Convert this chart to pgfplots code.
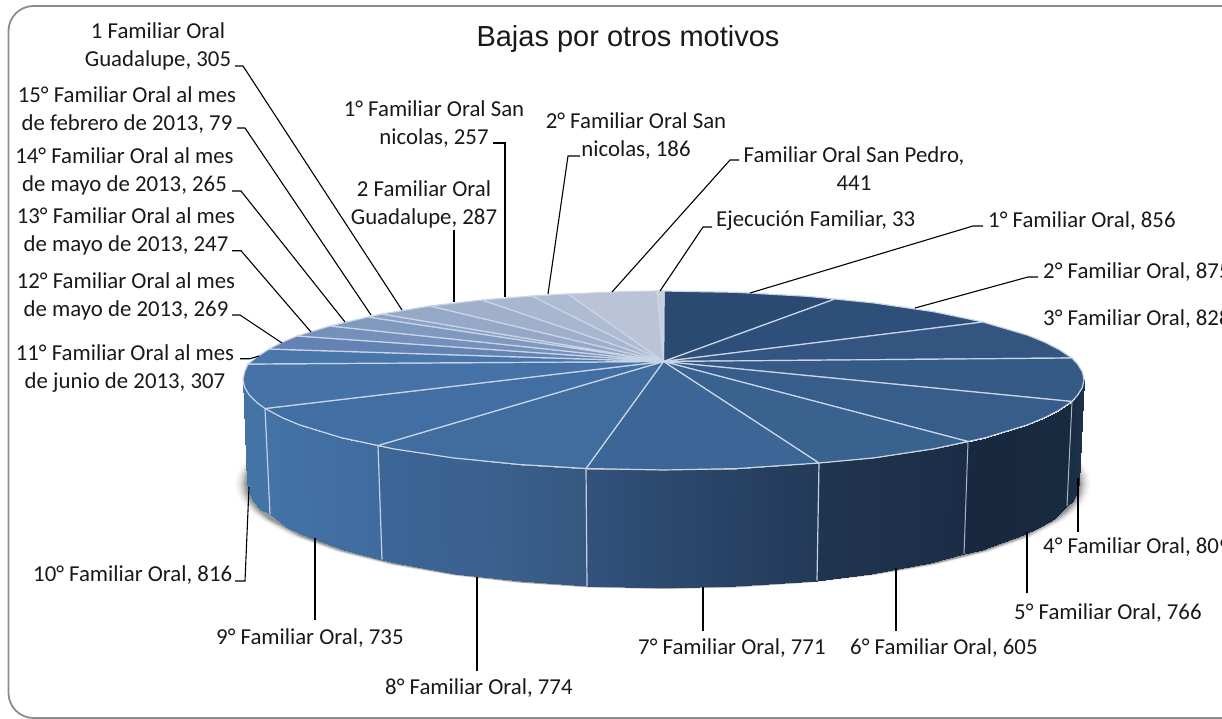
\documentclass[border=0pt]{standalone}
\usepackage{fontspec}
\usepackage{pgfplots}
\usepackage{pgfplotstable}
\pgfplotsset{compat=1.18}
\setmainfont{Carlito}
\newfontfamily\titlefont{Liberation Sans}
\newcommand\lab{\fontsize{22.8}{28}\selectfont}
\definecolor{sep}{HTML}{C9D5E6}
\definecolor{sepw}{HTML}{C3CFDF}
\definecolor{sepd}{HTML}{A7B5C6}
\definecolor{a1}{HTML}{2B4A72}\definecolor{a2}{HTML}{2E4F79}\definecolor{a3}{HTML}{33557F}\definecolor{a4}{HTML}{355A86}
\definecolor{a5}{HTML}{375D8A}\definecolor{a6}{HTML}{3A628F}\definecolor{a7}{HTML}{3B6695}\definecolor{a8}{HTML}{406C9E}
\definecolor{a9}{HTML}{426FA3}\definecolor{a10}{HTML}{4573A8}\definecolor{a11}{HTML}{4977AC}\definecolor{a12}{HTML}{6283B3}
\definecolor{a13}{HTML}{7490BB}\definecolor{a14}{HTML}{7F99BF}\definecolor{a15}{HTML}{8BA2C4}\definecolor{a16}{HTML}{95A8C7}
\definecolor{a17}{HTML}{A0B0CB}\definecolor{a18}{HTML}{A8B7D0}\definecolor{a19}{HTML}{AFBBD2}\definecolor{a20}{HTML}{BBC3D6}\definecolor{a21}{HTML}{C8CEDD}
\pgfplotstableread{
c s
1 0
0.9962 0.0872
0.9848 0.1736
0.9659 0.2588
0.9397 0.3420
0.8660 0.5
0.7660 0.6428
0.6428 0.7660
0.5 0.8660
0.3420 0.9397
0.1736 0.9848
0 1
-0.1736 0.9848
-0.3420 0.9397
-0.5 0.8660
-0.6428 0.7660
-0.7660 0.6428
-0.8660 0.5
-0.9397 0.3420
-0.9659 0.2588
-0.9848 0.1736
-0.9962 0.0872
-1 0
-0.9962 -0.0872
-0.9848 -0.1736
-0.9659 -0.2588
-0.9397 -0.3420
0 -0.6
0.9397 -0.3420
0.9659 -0.2588
0.9848 -0.1736
0.9962 -0.0872
}\shadowring
\pgfplotstableread{
x y c
1084 379.5 1084
1079 483 1084
1082.4 387.4 1082.4
1077.4 492.1 1082.4
1077.6 395.2 1077.6
1072.7 501.1 1077.6
1072 401.5 1072
1067 506 1072
1058.6 410.5 1058.6
1053.9 518.7 1058.6
1044.6 417.7 1044.6
1040 527.2 1044.6
1027.7 424.8 1027.7
1023.3 535.3 1027.7
985.6 437.7 985.6
981.7 550.2 985.6
968 441.5 968
964 554 968
933.8 448.8 933.8
930.4 563 933.8
873.8 457.9 873.8
871 573.5 873.8
819 463 819
817 580.5 819
736.5 468.6 736.5
735.2 585.9 736.5
663.5 470 663.5
663 587.5 663.5
586 468.5 586
587 586 586
519.7 464.5 519.7
520.7 581.2 519.7
453.2 457.9 453.2
455 573.5 453.2
393.2 448.8 393.2
395.6 563 393.2
378 445.5 378
382 559.5 378
341.4 437.7 341.4
344.3 550.2 341.4
299.3 424.8 299.3
302.7 535.3 299.3
282.4 417.7 282.4
286 527.2 282.4
265 408.5 265
270 514 265
257.3 402.9 257.3
261.2 510 257.3
249.4 395.2 249.4
253.3 501.1 249.4
244.6 387.4 244.6
248.6 492.1 244.6
243 379.5 243
247 483 243
}\walltable
\newcommand\shadowlayer[3]{\addplot[fill=black,fill opacity=#3,draw=none,forget plot] table[x expr={663+#1*\thisrow{c}},y expr={484+#2*\thisrow{s}}] {\shadowring} --cycle;}
\newcommand\slice[2]{\addplot[fill=#1,draw=sep,line width=1.2pt,line join=round,forget plot] coordinates {(663.5,361.5) #2} --cycle;}
\newcommand\leader[1]{\addplot[black,line width=1.1pt,forget plot] coordinates {#1};}
\newcommand\lbl[3]{\node[align=center,font=\lab,inner sep=0pt,text=black!90] at (axis cs:#1,#2) {#3};}
\newcommand\lbll[3]{\node[anchor=west,font=\lab,inner sep=0pt,text=black!90] at (axis cs:#1,#2) {#3};}
\begin{document}
\begin{tikzpicture}[x=1pt,y=1pt]
\useasboundingbox (0,0) rectangle (1222,719);
\clip (0,0) rectangle (1222,719);
\begin{axis}[at={(0,0)},anchor=south west,scale only axis,width=1222pt,height=719pt,
  xmin=0,xmax=1222,ymin=0,ymax=719,y dir=reverse,hide axis,clip=false,
  point meta min=243,point meta max=1084,
  colormap={wall}{
    rgb255(0pt)=(68,115,165);
    rgb255(22pt)=(68,115,165);
    rgb255(135pt)=(63,108,158);
    rgb255(136pt)=(60,102,151);
    rgb255(257pt)=(58,96,142);
    rgb255(343pt)=(54,87,128);
    rgb255(344pt)=(50,81,125);
    rgb255(420pt)=(44,73,110);
    rgb255(576pt)=(35,58,88);
    rgb255(577pt)=(32,53,81);
    rgb255(725pt)=(27,45,70);
    rgb255(726pt)=(24,40,63);
    rgb255(829pt)=(24,42,64);
    rgb255(830pt)=(26,45,68);
    rgb255(841pt)=(28,48,72)}]
% frame
\draw[color=black!45,line width=1.8pt,rounded corners=25pt] (axis cs:8.5,718) rectangle (axis cs:1260,6);
% shadow
\shadowlayer{428}{105.2}{0.025}
\shadowlayer{426}{105.1}{0.04}
\shadowlayer{424}{105}{0.06}
\shadowlayer{422}{104.9}{0.09}
\shadowlayer{420}{104.8}{0.12}
\shadowlayer{418}{104.7}{0.16}
% wall
\addplot[surf,shader=interp,mesh/rows=2,mesh/ordering=y varies,point meta=\thisrow{c},forget plot] table[x=x,y=y] {\walltable};
% wall separators
\addplot[sepd,line width=1pt,forget plot] coordinates {(1072,401.5) (1067,506)};
\addplot[sepd,line width=1pt,forget plot] coordinates {(968,441.5) (964,554)};
\addplot[sepw,line width=1.2pt,forget plot] coordinates {(819,463) (817,580.5)};
\addplot[sepw,line width=1.2pt,forget plot] coordinates {(586,468.5) (587,586)};
\addplot[sepw,line width=1.2pt,forget plot] coordinates {(378,445.5) (382,559.5)};
\addplot[sepw,line width=1.2pt,forget plot] coordinates {(265,408.5) (270,514)};
% top slices
\slice{a1}{(664,291) (736.5,292.3) (807.3,296.3) (835,299)}
\slice{a2}{(835,299) (873.8,302.9) (933.8,311.7) (983,322)}
\slice{a3}{(983,322) (1027.7,335.2) (1044.6,342.1) (1058.6,349.2) (1072,358)}
\slice{a4}{(1072,358) (1077.6,364.1) (1082.4,371.8) (1084,379.5) (1082.4,387.4) (1077.6,395.2) (1072,401.5)}
\slice{a5}{(1072,401.5) (1058.6,410.5) (1044.6,417.7) (1027.7,424.8) (985.6,437.7) (968,441.5)}
\slice{a6}{(968,441.5) (933.8,448.8) (873.8,457.9) (819,463)}
\slice{a7}{(819,463) (736.5,468.6) (663.5,470) (586,468.5)}
\slice{a8}{(586,468.5) (519.7,464.5) (453.2,457.9) (393.2,448.8) (378,445.5)}
\slice{a9}{(378,445.5) (341.4,437.7) (299.3,424.8) (282.4,417.7) (265,408.5)}
\slice{a10}{(265,408.5) (257.3,402.9) (249.4,395.2) (244.6,387.4) (243,379.5) (244.6,371.8) (248,364)}
\slice{a11}{(248,364) (257.3,356.6) (269,349)}
\slice{a12}{(269,349) (282.4,342.1) (297,336)}
\slice{a13}{(297,336) (330,326)}
\slice{a14}{(330,326) (368,317)}
\slice{a15}{(368,317) (382,314)}
\slice{a16}{(382,314) (430,306)}
\slice{a17}{(430,306) (482,300)}
\slice{a18}{(482,300) (532,296)}
\slice{a19}{(532,296) (568,294)}
\slice{a20}{(568,294) (620,291.8) (657,291)}
\slice{a21}{(657,291) (664,291)}
% leaders
\leader{(983,226) (973,226) (750,293)}
\leader{(1038,277) (1028,277) (915,308)}
\leader{(1078,478) (1078,532)}
\leader{(1027,532) (1027,593)}
\leader{(896,568) (896,631)}
\leader{(703,587) (703,631)}
\leader{(477,577) (477,671)}
\leader{(315,538) (315,620)}
\leader{(249,487) (245,581) (235,581)}
\leader{(240,358.7) (250,358.7) (259,356)}
\leader{(232,315) (240,315) (282,343)}
\leader{(232,250.7) (241,250.7) (311,332)}
\leader{(232,191) (241,191) (345,322)}
\leader{(237,128) (245,128) (371,315)}
\leader{(235,66) (243,66) (402,310)}
\leader{(454,230) (454,302)}
\leader{(493,143) (505,143) (505,297)}
\leader{(580,156) (568,156) (548,294)}
\leader{(739,160) (730,160) (612,292)}
\leader{(712,227) (703,227) (660,291)}
% labels
\node[font=\titlefont\fontsize{29}{32}\selectfont,inner sep=0pt,text=black!90] at (axis cs:628,39) {Bajas por otros motivos};
\lbl{158}{46}{1 Familiar Oral\\Guadalupe, 305}
\lbl{127}{110}{15° Familiar Oral al mes\\de febrero de 2013, 79}
\lbl{124.5}{171.5}{14° Familiar Oral al mes\\de mayo de 2013, 265}
\lbl{126}{231}{13° Familiar Oral al mes\\de mayo de 2013, 247}
\lbl{126}{296}{12° Familiar Oral al mes\\de mayo de 2013, 269}
\lbl{125}{369}{11° Familiar Oral al mes\\de junio de 2013, 307}
\lbl{424}{204}{2 Familiar Oral\\Guadalupe, 287}
\lbl{434}{124.5}{1° Familiar Oral San\\nicolas, 257}
\lbl{636}{136}{2° Familiar Oral San\\nicolas, 186}
\lbl{854}{168.5}{Familiar Oral San Pedro,\\441}
\lbll{716}{221}{Ejecución Familiar, 33}
\lbll{988}{221}{1° Familiar Oral, 856}
\lbll{1043}{272}{2° Familiar Oral, 875}
\lbll{1043}{319}{3° Familiar Oral, 828}
\lbll{1043}{547}{4° Familiar Oral, 809}
\lbll{1014}{613}{5° Familiar Oral, 766}
\lbll{850}{648}{6° Familiar Oral, 605}
\lbll{638}{648}{7° Familiar Oral, 771}
\lbll{385}{688}{8° Familiar Oral, 774}
\lbll{216}{638}{9° Familiar Oral, 735}
\lbll{33}{575}{10° Familiar Oral, 816}
\end{axis}
\end{tikzpicture}
\end{document}
